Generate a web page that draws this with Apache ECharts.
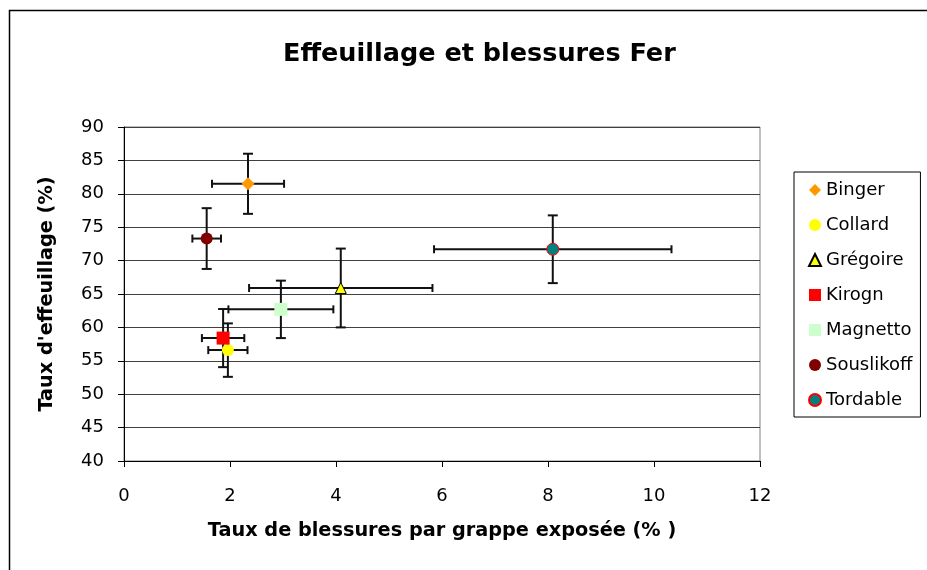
<!DOCTYPE html>
<html>
<head>
<meta charset="utf-8">
<script src="https://cdn.jsdelivr.net/npm/echarts@6/dist/echarts.min.js"></script>
<style>
html,body{margin:0;padding:0;background:#fff;}
#chart{width:927px;height:570px;}
</style>
</head>
<body>
<div id="chart"></div>
<script>
var names = ['Binger','Collard','Grégoire','Kirogn','Magnetto','Souslikoff','Tordable'];
var xValues = [2.34, 1.96, 4.09, 1.87, 2.96, 1.56, 8.09];
var yValues = [81.5, 56.6, 65.9, 58.4, 62.7, 73.3, 71.7];
var xErrors = [0.68, 0.37, 1.73, 0.40, 0.99, 0.27, 2.24];
var yErrors = [4.5, 4.0, 5.9, 4.35, 4.3, 4.55, 5.07];

var styles = [
  {symbol:'diamond', size:13, color:'#FF9900', border:null},
  {symbol:'circle', size:12, color:'#FFFF00', border:null},
  {symbol:'triangle', size:11, color:'#FFFF00', border:'#000000'},
  {symbol:'rect', size:13, color:'#FF0000', border:null},
  {symbol:'rect', size:13, color:'#CCFFCC', border:null},
  {symbol:'circle', size:12, color:'#800000', border:null},
  {symbol:'circle', size:12, color:'#008080', border:'#FF0000'}
];

var chart = echarts.init(document.getElementById('chart'), null, {renderer:'canvas'});
var FONT = 'DejaVu Sans, sans-serif';

var errData = names.map(function(n, i){ return [xValues[i], yValues[i], xErrors[i], yErrors[i]]; });

var series = [{
  type: 'custom',
  name: 'err',
  z: 1,
  silent: true,
  data: errData,
  encode: {x: 0, y: 1},
  renderItem: function(params, api){
    var x = api.value(0), y = api.value(1), xe = api.value(2), ye = api.value(3);
    var c = api.coord([x, y]);
    var l = api.coord([x - xe, y]);
    var r = api.coord([x + xe, y]);
    var t = api.coord([x, y + ye]);
    var b = api.coord([x, y - ye]);
    var st = {stroke:'#111', lineWidth:2};
    var hc = 4, vc = 5;
    return {type:'group', children:[
      {type:'line', shape:{x1:l[0], y1:c[1], x2:r[0], y2:c[1]}, style:st},
      {type:'line', shape:{x1:l[0], y1:c[1]-hc, x2:l[0], y2:c[1]+hc}, style:st},
      {type:'line', shape:{x1:r[0], y1:c[1]-hc, x2:r[0], y2:c[1]+hc}, style:st},
      {type:'line', shape:{x1:c[0], y1:t[1], x2:c[0], y2:b[1]}, style:st},
      {type:'line', shape:{x1:c[0]-vc, y1:t[1], x2:c[0]+vc, y2:t[1]}, style:st},
      {type:'line', shape:{x1:c[0]-vc, y1:b[1], x2:c[0]+vc, y2:b[1]}, style:st}
    ]};
  }
}];

names.forEach(function(n, i){
  var s = styles[i];
  series.push({
    type: 'scatter',
    name: n,
    z: 3,
    symbol: s.symbol,
    symbolSize: s.size,
    data: [[xValues[i], yValues[i]]],
    itemStyle: {color: s.color, borderColor: s.border || s.color, borderWidth: s.border ? 1 : 0, opacity: 1}
  });
});

var option = {
  animation: false,
  backgroundColor: '#ffffff',
  title: {
    text: 'Effeuillage et blessures Fer',
    left: 283, top: 41, padding: 0,
    textStyle: {fontFamily: FONT, fontSize: 25.5, fontWeight: 'bold', color: '#000'}
  },
  graphic: [{
    type: 'rect', z: -10, silent: true,
    shape: {x: 9.5, y: 10.5, width: 1200, height: 1200},
    style: {fill: 'none', stroke: '#000', lineWidth: 1.5}
  }],
  legend: {
    orient: 'vertical',
    left: 794, top: 172,
    padding: [9, 8, 8, 14],
    itemGap: 17,
    itemWidth: 12, itemHeight: 12,
    borderColor: '#000', borderWidth: 1,
    data: names,
    textStyle: {fontFamily: FONT, fontSize: 18, color: '#000', lineHeight: 18}
  },
  grid: {
    left: 124, right: 167, top: 127, bottom: 109,
    show: true, borderColor: '#808080', borderWidth: 1, backgroundColor: '#fff'
  },
  xAxis: {
    type: 'value', min: 0, max: 12, interval: 2,
    name: "Taux de blessures par grappe exposée (% )",
    nameLocation: 'middle', nameGap: 60,
    nameTextStyle: {fontFamily: FONT, fontSize: 19.3, fontWeight: 'bold', color: '#000'},
    axisLine: {show: true, onZero: false, lineStyle: {color: '#000', width: 1}},
    axisTick: {show: true, inside: false, length: 6, lineStyle: {color: '#000'}},
    axisLabel: {fontFamily: FONT, fontSize: 18, color: '#000', margin: 26},
    splitLine: {show: false}
  },
  yAxis: {
    type: 'value', min: 40, max: 90, interval: 5,
    name: "Taux d'effeuillage (%)",
    nameLocation: 'middle', nameGap: 68,
    nameTextStyle: {fontFamily: FONT, fontSize: 19.3, fontWeight: 'bold', color: '#000'},
    axisLine: {show: true, onZero: false, lineStyle: {color: '#000', width: 1}},
    axisTick: {show: true, inside: false, length: 6, lineStyle: {color: '#000'}},
    axisLabel: {fontFamily: FONT, fontSize: 18, color: '#000', margin: 20},
    splitLine: {show: true, lineStyle: {color: '#404040', width: 1}}
  },
  series: series
};
chart.setOption(option);
</script>
</body>
</html>
